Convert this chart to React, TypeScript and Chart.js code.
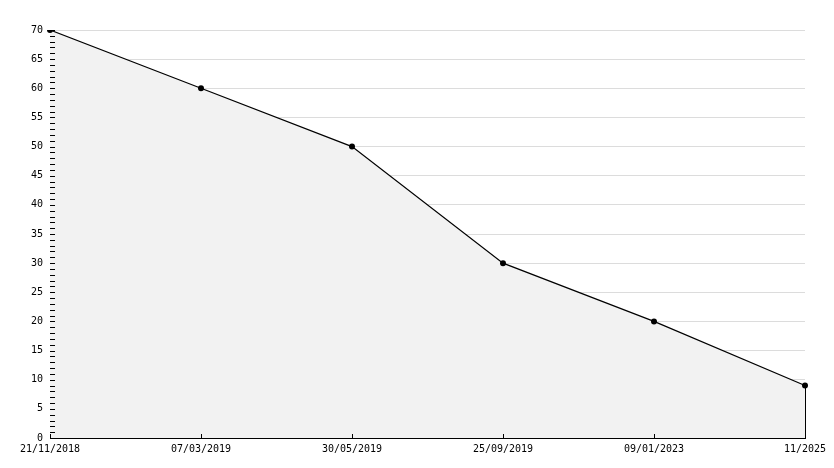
import React, { useEffect, useRef } from "react";
import { Chart, registerables } from "chart.js";

Chart.register(...registerables);

const categories = ["21/11/2018", "07/03/2019", "30/05/2019", "25/09/2019", "09/01/2023", "11/2025"];
const values = [70, 60, 50, 30, 20, 9];
const yMin = 0;
const yMax = 70;
const yMajorStep = 5;
const yMinorStep = 1;

const tickMarks = {
  id: "tickMarks",
  afterDatasetsDraw(chart: any) {
    const { ctx, chartArea, scales } = chart;
    const x = scales.x;
    const y = scales.y;
    ctx.save();
    ctx.strokeStyle = "#000";
    ctx.lineWidth = 1;
    ctx.beginPath();
    y.ticks.forEach((t: any) => {
      const py = Math.round(y.getPixelForValue(t.value)) + 0.5;
      ctx.moveTo(chartArea.left, py);
      ctx.lineTo(chartArea.left + 5, py);
    });
    x.ticks.forEach((_t: any, i: number) => {
      const px = Math.round(x.getPixelForValue(i)) + 0.5;
      ctx.moveTo(px, chartArea.bottom);
      ctx.lineTo(px, chartArea.bottom - 4);
    });
    const meta = chart.getDatasetMeta(0);
    const last = meta.data[meta.data.length - 1];
    const lx = Math.round(last.x) + 0.5;
    ctx.moveTo(lx, last.y);
    ctx.lineTo(lx, y.getPixelForValue(0));
    ctx.stroke();
    ctx.restore();
  },
};

export default function App() {
  const ref = useRef<HTMLCanvasElement>(null);
  useEffect(() => {
    document.body.style.margin = "0";
    const chart = new Chart(ref.current!, {
      type: "line",
      data: {
        labels: categories,
        datasets: [
          {
            data: values,
            borderColor: "#000",
            borderWidth: 1.2,
            backgroundColor: "#f2f2f2",
            fill: "origin",
            tension: 0,
            pointStyle: "circle",
            pointRadius: 3,
            pointBorderWidth: 0,
            pointBackgroundColor: "#000",
          },
        ],
      },
      options: {
        animation: false,
        responsive: false,
        layout: { padding: { top: 30, right: 29, left: 0, bottom: 0 } },
        plugins: { legend: { display: false }, tooltip: { enabled: false } },
        scales: {
          x: {
            type: "category",
            offset: false,
            grid: { display: false, drawTicks: false },
            border: { display: true, color: "#000", width: 1 },
            ticks: {
              color: "#000",
              font: { family: "DejaVu Sans Mono", size: 10 },
              padding: 5,
              maxRotation: 0,
              autoSkip: false,
            },
            afterFit: (s: any) => {
              s.height = 30;
            },
          },
          y: {
            min: yMin,
            max: yMax,
            grid: {
              drawTicks: false,
              color: (c: any) =>
                c.tick && c.tick.value % yMajorStep === 0 ? "#dcdcdc" : "rgba(0,0,0,0)",
              lineWidth: 1,
            },
            border: { display: true, color: "#000", width: 1 },
            ticks: {
              stepSize: yMinorStep,
              autoSkip: false,
              color: "#000",
              font: { family: "DejaVu Sans Mono", size: 10 },
              padding: 7,
              callback: (v: any) => (Number(v) % yMajorStep === 0 ? String(v) : ""),
            },
            afterFit: (s: any) => {
              s.width = 50;
            },
          },
        },
      },
      plugins: [tickMarks],
    });
    return () => chart.destroy();
  }, []);
  return (
    <div style={{ width: 834, height: 468, background: "#fff" }}>
      <canvas ref={ref} width={834} height={468} style={{ display: "block" }} />
    </div>
  );
}
